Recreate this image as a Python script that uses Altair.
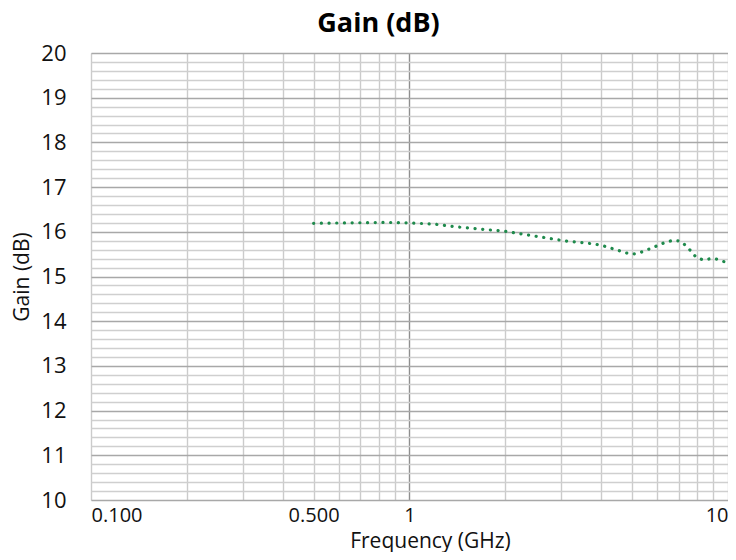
import altair as alt
import pandas as pd

# Data (frequency in GHz, gain in dB)
freq_ghz = [0.5, 0.65, 0.85, 1.0, 1.2, 1.4, 1.67, 2.0, 2.45, 3.05, 3.78, 4.0, 4.45,
            4.93, 5.19, 5.78, 6.38, 6.73, 7.09, 7.38, 7.68, 7.96, 8.39, 8.84, 9.29,
            9.81, 10.0]
gain_db = [16.19, 16.20, 16.21, 16.20, 16.17, 16.11, 16.06, 16.01, 15.91, 15.80,
           15.73, 15.70, 15.60, 15.50, 15.51, 15.64, 15.77, 15.81, 15.79, 15.69,
           15.555, 15.42, 15.37, 15.40, 15.385, 15.32, 15.30]

x_grid_values = [0.1, 0.2, 0.3, 0.4, 0.5, 0.6, 0.7, 0.8, 0.9,
                 1, 2, 3, 4, 5, 6, 7, 8, 9, 10]
x_label_values = [0.1, 0.5, 1, 10]
x_label_texts = ["0.100", "0.500", "1", "10"]
y_grid_values = [round(10 + 0.2 * i, 1) for i in range(51)]

df = pd.DataFrame({"freq": freq_ghz, "gain": gain_db})

x_label_expr = " : ".join(
    f"datum.value === {v} ? '{t}'" for v, t in zip(x_label_values, x_label_texts)
) + " : ''"

FONT = "Open Sans"

line = alt.Chart(df).mark_line(
    color="#1f8a4c", strokeWidth=3.2, strokeCap="round", strokeDash=[0.1, 7.6]
).encode(
    x=alt.X(
        "freq:Q",
        scale=alt.Scale(type="log", domain=[0.1, 10], nice=False),
        axis=alt.Axis(
            values=x_grid_values,
            labelExpr=x_label_expr,
            labelOverlap=False,
            labelFlush=True,
            labelFont=FONT,
            labelFontSize=20,
            labelColor="#111",
            labelBaseline="alphabetic",
            labelPadding=21,
            ticks=False,
            tickSize=0,
            domain=False,
            grid=True,
            gridColor={"condition": {"test": "datum.value === 1", "value": "#8f8f8f"},
                       "value": "#cbcbcb"},
            gridWidth=1.4,
            title="Frequency (GHz)",
            titleFont=FONT,
            titleFontSize=21,
            titleFontWeight="normal",
            titleColor="#111",
            titleX=339,
            titleY=47,
            titleBaseline="alphabetic",
            titleAlign="center",
        ),
    ),
    y=alt.Y(
        "gain:Q",
        scale=alt.Scale(domain=[10, 20], nice=False, zero=False),
        axis=alt.Axis(
            values=y_grid_values,
            labelExpr="abs(datum.value - round(datum.value)) < 0.01 ? format(datum.value, 'd') : ''",
            labelOverlap=False,
            labelFont=FONT,
            labelFontSize=22,
            labelColor="#111",
            labelBaseline="middle",
            labelAlign="right",
            labelPadding=25,
            ticks=False,
            tickSize=0,
            domain=False,
            grid=True,
            gridColor={"condition": {"test": "abs(datum.value - round(datum.value)) < 0.01",
                                     "value": "#a8a8a8"},
                       "value": "#cfcfcf"},
            gridWidth=1.4,
            title="Gain (dB)",
            titleFont=FONT,
            titleFontSize=21,
            titleFontWeight="normal",
            titleColor="#111",
            titleAngle=270,
            titleX=-63,
            titleY=223.5,
            titleBaseline="alphabetic",
            titleAlign="center",
        ),
    ),
)

chart = line.properties(
    width=637,
    height=447,
    autosize=alt.AutoSizeParams(type="none"),
    padding={"left": 83, "top": 45, "right": 0, "bottom": 52},
    title=alt.Title(
        "Gain (dB)",
        font=FONT,
        fontSize=27,
        fontWeight="bold",
        color="#000",
        anchor="middle",
        frame="group",
        dx=-31,
        offset=-17,
        baseline="alphabetic",
    ),
).configure_view(
    stroke="#b0b0b0", strokeWidth=1.5
).configure(background="white")

chart.save("out.html", embed_options={"renderer": "svg", "actions": False})
